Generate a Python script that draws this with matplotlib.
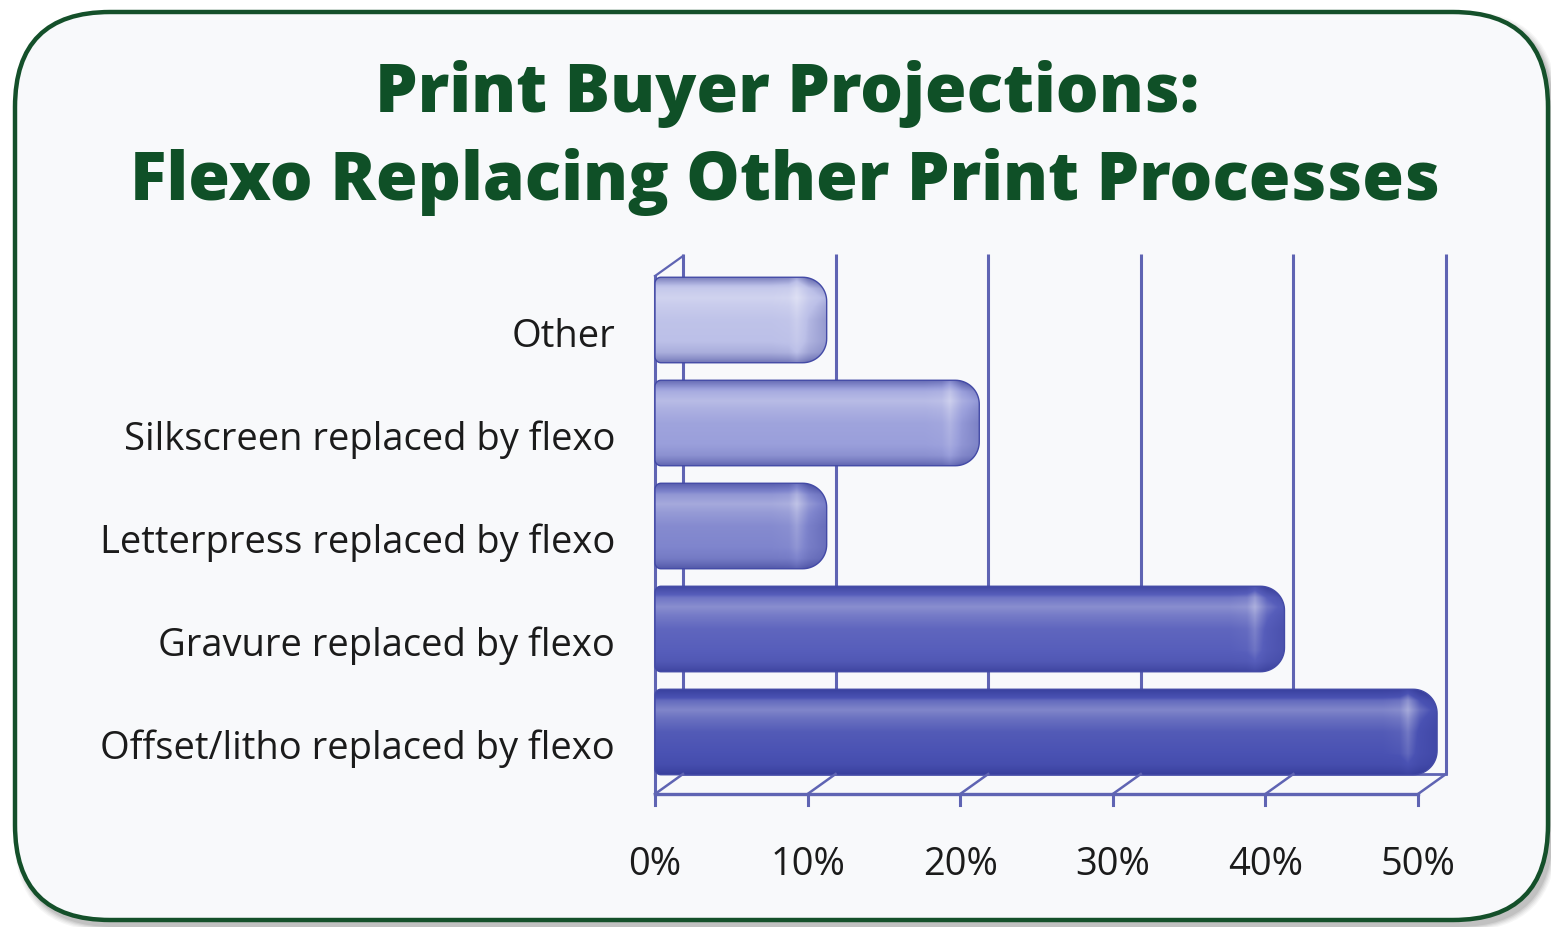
import numpy as np
import matplotlib
matplotlib.use("Agg")
import matplotlib.pyplot as plt
from matplotlib.patches import FancyBboxPatch, PathPatch
from matplotlib.path import Path
from matplotlib.colors import to_rgb
from matplotlib.transforms import offset_copy
from matplotlib import font_manager

# ---- chart content -------------------------------------------------------
title_lines = ["Print Buyer Projections:", "Flexo Replacing Other Print Processes"]
categories = ["Other",
              "Silkscreen replaced by flexo",
              "Letterpress replaced by flexo",
              "Gravure replaced by flexo",
              "Offset/litho replaced by flexo"]
shares = [10, 20, 10, 40, 50]
bar_colors = ["#bcc0e8", "#9a9fdb", "#7f85cd", "#575ebb", "#4a52b3"]
tick_values = [0, 10, 20, 30, 40, 50]
tick_labels = ["0%", "10%", "20%", "30%", "40%", "50%"]

W, H, DPI = 1551, 928, 100


def pick_font(names):
    for n in names:
        try:
            font_manager.findfont(font_manager.FontProperties(family=n),
                                  fallback_to_default=False)
            return n
        except Exception:
            continue
    return "DejaVu Sans"


LABEL_FONT = pick_font(["Liberation Sans Narrow", "Open Sans", "Noto Sans"])
TITLE_FONT = pick_font(["Open Sans", "Noto Sans", "Lato"])
TITLE_COLOR = "#0f5027"
GRID_COLOR = "#5f64b3"

fig = plt.figure(figsize=(W / DPI, H / DPI), dpi=DPI, facecolor="white")

# ---- background card with shadow ----------------------------------------
bg = fig.add_axes([0, 0, 1, 1])
bg.set_xlim(0, W)
bg.set_ylim(H, 0)
bg.axis("off")
for k, a in enumerate([0.05, 0.06, 0.08, 0.10, 0.12]):
    grow = 10 - 2 * k
    bg.add_patch(FancyBboxPatch((19 - grow / 2, 17 - grow / 2), 1533 + grow, 910 + grow,
                                boxstyle="round,pad=0,rounding_size=95",
                                facecolor="#555555", edgecolor="none", alpha=a, zorder=1))
bg.add_patch(FancyBboxPatch((15, 13), 1533, 908,
                            boxstyle="round,pad=0,rounding_size=95",
                            facecolor="#f8f9fb", edgecolor="#14502a",
                            linewidth=3.2, zorder=2))

# title
t1 = bg.text(787, 112, title_lines[0], ha="center", va="baseline",
             fontsize=50, fontweight="heavy", family=TITLE_FONT,
             color=TITLE_COLOR, zorder=5)
t2 = bg.text(785, 200, title_lines[1], ha="center", va="baseline",
             fontsize=50, fontweight="heavy", family=TITLE_FONT,
             color=TITLE_COLOR, zorder=5)

# ---- plotting area ------------------------------------------------------
X0, X50, YTOP, YBOT = 655, 1418, 255, 795
XR = 1480                          # room on the right for caps and back wall
px_x = (X50 - X0) / 50.0          # pixels per percent
ax = fig.add_axes([X0 / W, (H - YBOT) / H, (XR - X0) / W, (YBOT - YTOP) / H])
ax.set_facecolor("none")
ax.axis("off")

pitch = 103.0                      # pixels per category
y_low = -(YBOT - 733) / pitch
y_high = (733 - YTOP) / pitch
DX = 28 / px_x                     # depth shift of the back wall
DY = 20 / pitch
CAP_SHIFT = 1.25                   # bars sit halfway into the depth
BAR_H = 0.83

ypos = np.arange(len(categories))[::-1]   # top category drawn highest

# back wall gridlines
for t in tick_values:
    ax.plot([t + DX, t + DX], [y_low + DY, y_high], color=GRID_COLOR,
            lw=2.2, solid_capstyle="butt", zorder=2, clip_on=False)
# front left edge + top diagonal
front_top = (733 - 277) / pitch
ax.plot([0, 0], [y_low, front_top], color=GRID_COLOR, lw=2.2, zorder=2, clip_on=False)
ax.plot([0, DX], [front_top, front_top + DY], color=GRID_COLOR, lw=1.6, zorder=2, clip_on=False)
# floor
ax.plot([0, 50], [y_low, y_low], color=GRID_COLOR, lw=2.4, zorder=6, clip_on=False)
ax.plot([DX, 50 + DX], [y_low + DY, y_low + DY], color=GRID_COLOR, lw=2.0, zorder=2, clip_on=False)
for t in tick_values:
    ax.plot([t, t + DX], [y_low, y_low + DY], color=GRID_COLOR, lw=1.8, zorder=6, clip_on=False)
    ax.plot([t, t], [y_low, y_low - 11 / pitch], color=GRID_COLOR, lw=2.2, zorder=6, clip_on=False)

# ---- glossy rounded bars --------------------------------------------------
dark = np.array(to_rgb("#262c86"))
white = np.ones(3)
tv = np.array([0.0, 0.05, 0.13, 0.24, 0.34, 0.5, 0.75, 0.88, 0.95, 1.0])
fv = np.array([-0.45, -0.22, 0.14, 0.30, 0.18, 0.05, 0.0, -0.12, -0.32, -0.5])
dh = np.array([0, 8, 18, 30, 38, 55, 1e4])
fh = np.array([-0.45, -0.32, -0.15, 0.25, 0.05, 0.0, 0.0])

r_px = 24.0
for val, y, col in zip(shares, ypos, bar_colors):
    end = val + CAP_SHIFT
    y0, y1 = y - BAR_H / 2, y + BAR_H / 2
    rx, ry = r_px / px_x, r_px / pitch
    lx, ly = 6 / px_x, 6 / pitch
    th = np.linspace(0, np.pi / 2, 20)
    verts = [(lx, y0), (end - rx, y0)]
    verts += [(end - rx + rx * np.sin(a), y0 + ry - ry * np.cos(a)) for a in th]
    verts += [(end - rx + rx * np.cos(a), y1 - ry + ry * np.sin(a)) for a in th]
    verts += [(lx - lx * np.sin(a), y1 - ly + ly * np.cos(a)) for a in th]
    verts += [(lx - lx * np.cos(a), y0 + ly - ly * np.sin(a)) for a in th]
    verts += [(lx, y0)]
    path = Path(verts, closed=True)

    width_px = int(end * px_x)
    ny = 120
    t = np.linspace(0, 1, ny)[:, None]
    d = (width_px - np.arange(width_px) - 0.5)[None, :]
    f = np.interp(t, tv, fv) + np.interp(d, dh, fh) * (1.0 - 0.6 * t)
    f = np.clip(f, -0.7, 0.8)
    base = np.array(to_rgb(col))
    pos = np.clip(f, 0, None)[..., None]
    neg = np.clip(-f, 0, None)[..., None]
    img = base * (1 - pos - neg) + white * pos + dark * neg
    im = ax.imshow(img, extent=[0, end, y0, y1], origin="upper", aspect="auto",
                   interpolation="bilinear", zorder=4)
    edge = PathPatch(path, facecolor="none", edgecolor="#434aa6", lw=1.0, zorder=5,
                     clip_on=False)
    ax.add_patch(edge)
    im.set_clip_path(edge)

ax.set_xlim(0, (XR - X0) / px_x)
ax.set_ylim(y_low, y_high)
ax.set_aspect("auto")

# category labels
lab_tr = offset_copy(ax.transData, fig=fig, x=-40, y=-26, units="dots")
labels = []
for name, y in zip(categories, ypos):
    labels.append(ax.text(0, y, name, transform=lab_tr, ha="right", va="baseline",
                          fontsize=30, family=LABEL_FONT, color="#1b1b1b", clip_on=False))

tick_tr = offset_copy(ax.transData, fig=fig, x=0, y=-(875 - YBOT), units="dots")
ticks = []
for tv_, tl in zip(tick_values, tick_labels):
    ticks.append(ax.text(tv_, y_low, tl, transform=tick_tr, ha="center", va="baseline",
                         fontsize=30, family=LABEL_FONT, color="#1b1b1b", clip_on=False))

# size text to the layout widths
fig.canvas.draw()
rend = fig.canvas.get_renderer()


def fit(artist, target):
    w = artist.get_window_extent(rend).width
    return artist.get_fontsize() * target / w


s_title = fit(t2, 1310)
t1.set_fontsize(s_title)
t2.set_fontsize(s_title)
s_lab = fit(labels[-1], 515)
for a in labels:
    a.set_fontsize(s_lab)
s_tick = fit(ticks[-1], 75)
for a in ticks:
    a.set_fontsize(s_tick)

fig.savefig("out.png", dpi=DPI, facecolor="white")
